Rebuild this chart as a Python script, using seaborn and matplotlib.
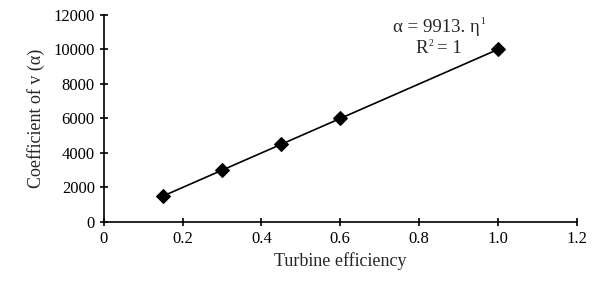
import matplotlib
matplotlib.use("Agg")
import matplotlib.pyplot as plt
import seaborn as sns
import pandas as pd

efficiency = [0.15, 0.3, 0.45, 0.6, 1.0]
coefficient = [1500, 3000, 4500, 6000, 10000]
xticks = [0, 0.2, 0.4, 0.6, 0.8, 1.0, 1.2]
xticklabels = ["0", "0.2", "0.4", "0.6", "0.8", "1.0", "1.2"]
yticks = [0, 2000, 4000, 6000, 8000, 10000, 12000]

data = pd.DataFrame({"eff": efficiency, "coef": coefficient})

sns.set_style("ticks")
plt.rcParams["font.family"] = ["Liberation Serif", "DejaVu Serif"]

fig = plt.figure(figsize=(5.97, 2.82), dpi=100)
ax = fig.add_axes([0.174, 0.213, 0.792, 0.734])

sns.lineplot(data=data, x="eff", y="coef", ax=ax, color="black", linewidth=1.2,
             marker="D", markersize=7.5, markeredgecolor="black", markerfacecolor="black")

ax.set_xlim(0, 1.2)
ax.set_ylim(0, 12000)
ax.set_xticks(xticks)
ax.set_xticklabels(xticklabels)
ax.set_yticks(yticks)
ax.tick_params(direction="inout", length=6, width=1.2, labelsize=12, colors="black")
for s in ["left", "bottom"]:
    ax.spines[s].set_linewidth(1.2)
    ax.spines[s].set_color("black")
sns.despine(ax=ax)

ax.set_xlabel("Turbine efficiency", fontsize=13)
ax.set_ylabel("Coefficient of v (α)", fontsize=13, labelpad=6)

# equation of the trend line, with small superscripts
t1 = ax.text(0.845, 11300, "α = 9913. η", ha="center", va="center", fontsize=13.5)
ax.annotate("1", xy=(1.0, 0.8), xycoords=t1, ha="left", va="center", fontsize=7)
t2 = ax.text(0.823, 10050, "R", ha="right", va="center", fontsize=13.5)
sup = ax.annotate("2", xy=(1.0, 0.8), xycoords=t2, ha="left", va="center", fontsize=7)
ax.annotate("= 1", xy=(1.0, 0.5), xycoords=(sup, t2), xytext=(3, 0), textcoords="offset points",
            ha="left", va="center", fontsize=13.5)

fig.savefig("out.png", dpi=100)
